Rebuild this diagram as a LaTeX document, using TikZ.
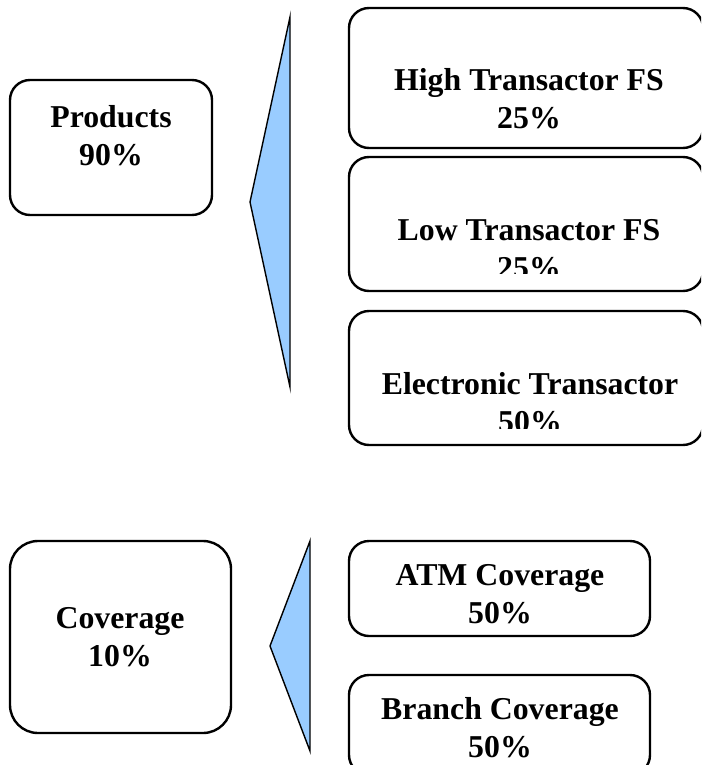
\documentclass[tikz,border=0pt]{standalone}
\usepackage{fontspec}
\setmainfont{Liberation Serif}
\definecolor{wedgeblue}{RGB}{153,204,255}
\begin{document}
\begin{tikzpicture}
		[x=1pt,y=-1pt,
		box/.style={draw,line width=2.4pt,rounded corners=20pt,inner sep=0pt},
		txt/.style={align=center,inner sep=0pt,
			font=\fontsize{31.8}{38}\selectfont\bfseries},
		wedge/.style={draw,fill=wedgeblue,line width=1.4pt,line join=miter}]
		\clip (0,0) rectangle (701,765);
		% upper group
		\node[box,minimum width=202pt,minimum height=135pt] (prod) at (111,147.5) {};
		\node[txt] (prodtxt) at (111,136) {Products\\90\%};
		\coordinate (wa) at (250,202);
		\coordinate (wt) at (290,17);
		\coordinate (wb) at (290,387);
		\draw[wedge] (wa) -- (wt) -- (wb) -- cycle;
		\node[box,minimum width=354pt,minimum height=140pt] (high) at (526,78) {};
		\node[txt] (hightxt) at (529,99) {High Transactor FS\\25\%};
		\node[box,minimum width=354pt,minimum height=134pt] (low) at (526,224) {};
		\begin{scope}
			\clip (350,150) rectangle (701,273);
			\node[txt] (lowtxt) at (529,249) {Low Transactor FS\\25\%};
		\end{scope}
		\node[box,minimum width=354pt,minimum height=134pt] (elec) at (526,378) {};
		\begin{scope}
			\clip (350,300) rectangle (701,428);
			\node[txt] (electxt) at (530,403) {Electronic Transactor\\50\%};
		\end{scope}
		% lower group
		\node[box,rounded corners=28pt,minimum width=221pt,minimum height=192pt] (cov) at (120.5,637) {};
		\node[txt] (covtxt) at (120,637) {Coverage\\10\%};
		\coordinate (va) at (270,646);
		\coordinate (vt) at (310,541);
		\coordinate (vb) at (310,751);
		\draw[wedge] (va) -- (vt) -- (vb) -- cycle;
		\node[box,minimum width=301pt,minimum height=95pt] (atm) at (499.5,588.5) {};
		\node[txt] (atmtxt) at (500,594) {ATM Coverage\\50\%};
		\node[box,minimum width=301pt,minimum height=100pt] (branch) at (499.5,725) {};
		\node[txt] (branchtxt) at (500,728) {Branch Coverage\\50\%};
	\end{tikzpicture}
\end{document}
